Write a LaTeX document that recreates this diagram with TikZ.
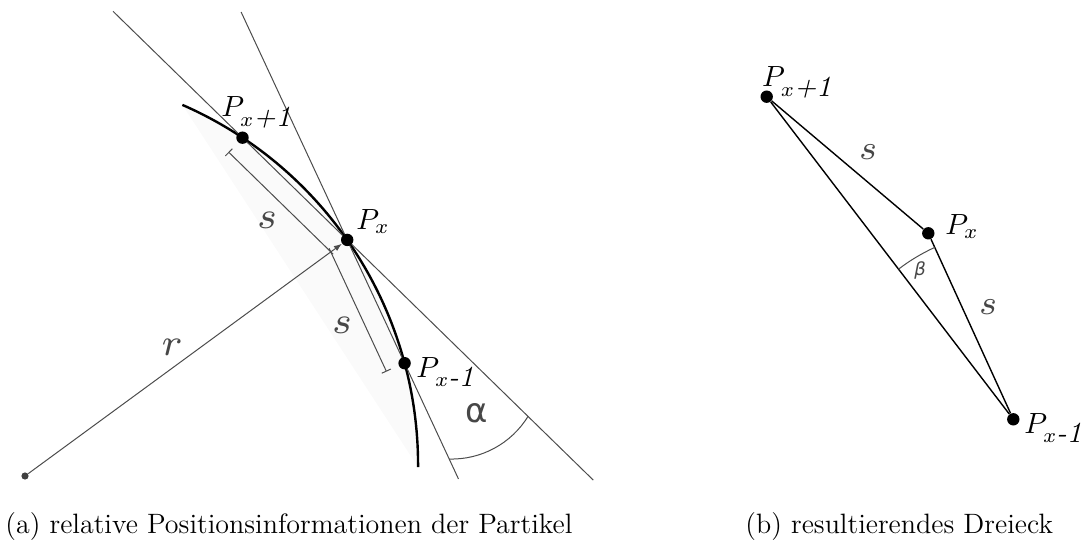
\documentclass[tikz,border=0pt]{standalone}
\usepackage{fontspec}
\usepackage{graphicx}
\newfontfamily\dejavu{DejaVu Sans}
\usetikzlibrary{calc,arrows.meta,backgrounds}
\newcommand{\heavylbl}[2]{\scalebox{#1}{\fontsize{7}{8}\selectfont #2}}
\newcommand{\ptlbl}[1]{\scalebox{1.46}{\fontsize{10}{12}\selectfont #1}}
\begin{document}
\begin{tikzpicture}[x=0.5pt,y=-0.5pt,
  dot/.style={circle,fill=black,inner sep=0pt,minimum size=6.2pt},
  smalldot/.style={circle,fill=black!75,inner sep=0pt,minimum size=3.6pt},
  thinline/.style={draw=black!70,line width=0.5pt},
  curve/.style={draw=black,line width=1.2pt},
  tri/.style={draw=black,line width=0.7pt},
  plabel/.style={anchor=base west,inner sep=0pt},
  glabel/.style={text=black!72,inner sep=0pt},
  capstyle/.style={anchor=base west,inner sep=0pt,font=\fontsize{14}{16}\selectfont}]

\useasboundingbox (0,0) rectangle (1083,540);

% ---- left figure: points
\node[smalldot] (O) at (25,476) {};
\node[dot] (Pp) at (242.5,137.7) {};
\node[dot] (Px) at (347.2,239.9) {};
\node[dot] (Pm) at (404.6,363.2) {};

\begin{scope}[on background layer]
  % shaded circular segment
  \fill[black!2] (182.4,104.9) arc[start angle=-66.4,end angle=0.3,radius=393] -- cycle;
  % curve
  \draw[curve] (182.4,104.9) arc[start angle=-66.4,end angle=0.3,radius=393];
  % secants
  \draw[thinline] ($(Pp)!-1.237!(Px)$) -- ($(Pp)!3.35!(Px)$);
  \draw[thinline] ($(Px)!-1.848!(Pm)$) -- ($(Px)!1.939!(Pm)$);
  % dimension lines
  \draw[thinline,{Bar[width=5pt]}-] ($(Pp)+(-14,14.3)$) -- ($(Px)+(-14,14.3)$);
  \draw[thinline,-{Bar[width=5pt]}] ($(Px)+(-18.1,8.4)$) -- ($(Pm)+(-18.1,8.4)$);
  % radius arrow
  \draw[thinline,-{Latex[length=4pt,width=3pt]}] (O) -- (Px);
  % angle alpha
  \draw[thinline] ($(Px)!1.777!(Pm)$) arc[start angle=91.6,end angle=31.6,radius=89.6];
\end{scope}

\node[plabel] (LPp) at (221,117) {\ptlbl{$P_{x\textit{+1}}$}};
\node[plabel] (LPx) at (356,229) {\ptlbl{$P_{x}$}};
\node[plabel] (LPm) at (416,377) {\ptlbl{$P_{x\textit{-1}}$}};
\node[glabel] (s1) at (267,220) {\heavylbl{2.7}{$s$}};
\node[glabel] (s2) at (342,325) {\heavylbl{2.7}{$s$}};
\node[glabel] (r) at (172,347) {\heavylbl{2.7}{$r$}};
\node[text=black!72,inner sep=0pt,font=\dejavu\fontsize{17}{20}\selectfont] (al) at (477,413) {α};

% ---- right figure
\node[dot] (Qp) at (766.7,96.7) {};
\node[dot] (Qx) at (928.3,233.3) {};
\node[dot] (Qm) at (1013.3,419.3) {};
\begin{scope}[on background layer]
  \draw[tri] (Qp) -- (Qx);
  \draw[tri] (Qx) -- (Qm);
  \draw[tri] (Qm) -- (Qp);
  \draw[thinline] ($(Qm)+(-127.4:189)$) arc[start angle=-127.4,end angle=-114.6,radius=189];
\end{scope}
\node[plabel] (LQp) at (761.7,86.7) {\ptlbl{$P_{x\textit{+1}}$}};
\node[plabel] (LQx) at (945,234.3) {\ptlbl{$P_{x}$}};
\node[plabel] (LQm) at (1024,433.3) {\ptlbl{$P_{x\textit{-1}}$}};
\node[glabel] (s3) at (868,152) {\heavylbl{2.45}{$s$}};
\node[glabel] (s4) at (988,307) {\heavylbl{2.45}{$s$}};
\node[text=black!72,inner sep=0pt,font=\dejavu\itshape\fontsize{9}{10}\selectfont] (be) at (920,270) {β};

% ---- captions
\node[capstyle] (ca) at (5,533) {(a) relative Positionsinformationen der Partikel};
\node[capstyle] (cb) at (745,533) {(b) resultierendes Dreieck};
\end{tikzpicture}
\end{document}
